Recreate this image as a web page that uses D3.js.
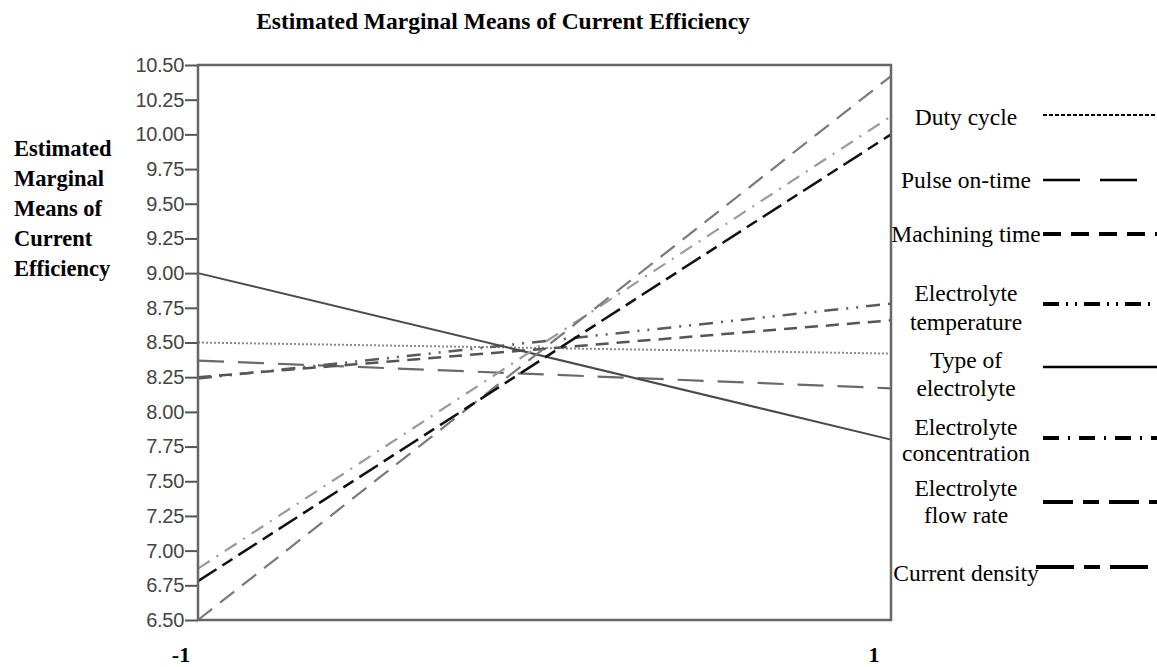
<!DOCTYPE html>
<html>
<head>
<meta charset="utf-8">
<script src="https://cdn.jsdelivr.net/npm/d3@7"></script>
<style>
  body { margin: 0; background: #fff; }
  svg { display: block; }
</style>
</head>
<body>
<div id="chart"></div>
<script>
// factor levels on the x axis
var levels = [-1, 1];
var levelLabels = ["-1", "1"];

// one line per factor
var categories = ["Duty cycle", "Pulse on-time", "Machining time", "Electrolyte temperature",
  "Type of electrolyte", "Electrolyte concentration", "Electrolyte flow rate", "Current density"];
var lowValues  = [8.50, 8.37, 8.25, 8.24, 9.00, 6.87, 6.50, 6.78];   // at -1
var highValues = [8.42, 8.17, 8.66, 8.78, 7.80, 10.13, 10.42, 10.00]; // at 1

var yTicks = [6.50, 6.75, 7.00, 7.25, 7.50, 7.75, 8.00, 8.25, 8.50, 8.75, 9.00, 9.25, 9.50, 9.75, 10.00, 10.25, 10.50];

// legend text, split in lines as drawn
var legendLines = [["Duty cycle"], ["Pulse on-time"], ["Machining time"], ["Electrolyte", "temperature"],
  ["Type of", "electrolyte"], ["Electrolyte", "concentration"], ["Electrolyte", "flow rate"], ["Current density"]];

// styles (plot line / legend sample)
var lineStyle = [
  {stroke: "#8a8a8a", width: 2,   dash: "2,2"},
  {stroke: "#6a6a6a", width: 2.2, dash: "26,14"},
  {stroke: "#555",    width: 2.5, dash: "13,8"},
  {stroke: "#5a5a5a", width: 2.5, dash: "14,8,2,8,2,8"},
  {stroke: "#4a4a4a", width: 2,   dash: null},
  {stroke: "#9a9a9a", width: 2.2, dash: "14,8,2,8"},
  {stroke: "#7a7a7a", width: 2.2, dash: "18,10"},
  {stroke: "#111",    width: 2.5, dash: "22,7,12,7"}
];
var legendStyle = [
  {width: 2,   dash: "4,2"},
  {width: 2.5, dash: "37,20"},
  {width: 4,   dash: "18,10"},
  {width: 4,   dash: "16,7,2,7,2,7"},
  {width: 2.5, dash: null},
  {width: 4,   dash: "16,9,2,9"},
  {width: 4,   dash: "30,10,16,10"},
  {width: 4,   dash: "38,10,16,10"}
];
var legendY = [[117], [180], [234], [293, 322], [360, 388], [427, 453], [488, 515], [573]];
var sampleY = [115, 180, 234, 304, 367, 438, 502, 567];

var W = 1157, H = 667;
var plot = {left: 198, right: 891, top: 65, bottom: 620};

var svg = d3.select("#chart").append("svg")
    .attr("width", W)
    .attr("height", H);

var x = d3.scaleLinear().domain([-1, 1]).range([plot.left, plot.right]);
var y = d3.scaleLinear().domain([6.5, 10.5]).range([plot.bottom, plot.top]);

// title
svg.append("text")
    .attr("x", 503)
    .attr("y", 29)
    .attr("text-anchor", "middle")
    .style("font-family", "'Liberation Serif', 'Times New Roman', serif")
    .style("font-weight", "bold")
    .style("font-size", "23.5px")
    .text("Estimated Marginal Means of Current Efficiency");

// y title
var ytitle = ["Estimated", "Marginal", "Means of", "Current", "Efficiency"];
svg.append("g").selectAll("text")
    .data(ytitle)
    .enter()
    .append("text")
    .attr("x", 14)
    .attr("y", function(d, i) { return 148 + i * 30; })
    .attr("dy", "0.35em")
    .style("font-family", "'Liberation Serif', 'Times New Roman', serif")
    .style("font-weight", "bold")
    .style("font-size", "22.5px")
    .text(function(d) { return d; });

// y axis
var yAxis = svg.append("g")
    .attr("transform", "translate(" + plot.left + ",0)")
    .call(d3.axisLeft(y).tickValues(yTicks).tickFormat(d3.format(".2f")).tickSize(13).tickPadding(1));
yAxis.select(".domain").remove();
yAxis.selectAll(".tick line").attr("stroke", "#555").attr("stroke-width", 2);
yAxis.selectAll(".tick text")
    .attr("fill", "#444")
    .style("font-family", "'Liberation Sans', Arial, sans-serif")
    .style("font-size", "20px")
    .style("letter-spacing", "-0.3px");

// x labels
svg.append("g").selectAll("text")
    .data(levels)
    .enter()
    .append("text")
    .attr("x", function(d) { return x(d) - 17; })
    .attr("y", 662)
    .attr("text-anchor", "middle")
    .style("font-family", "'Liberation Serif', 'Times New Roman', serif")
    .style("font-weight", "bold")
    .style("font-size", "22px")
    .text(function(d, i) { return levelLabels[i]; });

// lines
var line = d3.line()
    .x(function(d) { return x(d.level); })
    .y(function(d) { return y(d.value); });

var series = categories.map(function(c, i) {
  return {name: c, i: i, values: [{level: levels[0], value: lowValues[i]}, {level: levels[1], value: highValues[i]}]};
});

svg.append("g").selectAll("path")
    .data(series)
    .enter()
    .append("path")
    .attr("d", function(d) { return line(d.values); })
    .attr("fill", "none")
    .attr("stroke", function(d) { return lineStyle[d.i].stroke; })
    .attr("stroke-width", function(d) { return lineStyle[d.i].width; })
    .attr("stroke-dasharray", function(d) { return lineStyle[d.i].dash; });

// frame
svg.append("rect")
    .attr("x", plot.left)
    .attr("y", plot.top)
    .attr("width", plot.right - plot.left)
    .attr("height", plot.bottom - plot.top)
    .attr("fill", "none")
    .attr("stroke", "#666")
    .attr("stroke-width", 2.5);

// legend
var legend = svg.append("g").selectAll("g")
    .data(categories)
    .enter()
    .append("g");

legend.each(function(d, i) {
  var g = d3.select(this);
  legendLines[i].forEach(function(t, k) {
    g.append("text")
        .attr("x", 966)
        .attr("y", legendY[i][k])
        .attr("dy", "0.32em")
        .attr("text-anchor", "middle")
        .style("font-family", "'Liberation Serif', 'Times New Roman', serif")
        .style("font-size", "23.5px")
        .text(t);
  });
  g.append("line")
      .attr("x1", i == 7 ? 1036 : 1043)
      .attr("x2", 1157)
      .attr("y1", sampleY[i])
      .attr("y2", sampleY[i])
      .attr("stroke", "#000")
      .attr("stroke-width", legendStyle[i].width)
      .attr("stroke-dasharray", legendStyle[i].dash);
});
</script>
</body>
</html>
